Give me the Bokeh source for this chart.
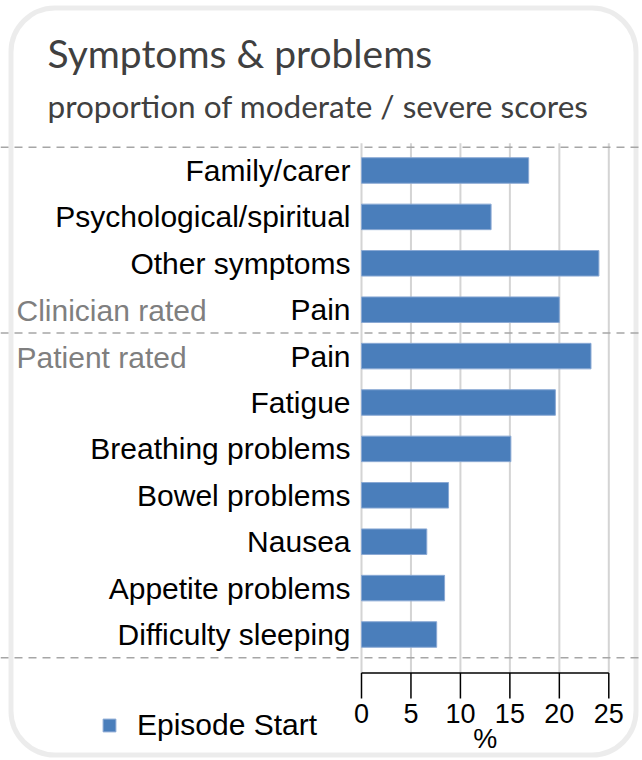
from bokeh.plotting import figure
from bokeh.models import (Range1d, Label, Span, BoxAnnotation, Legend, LegendItem,
                          ColumnDataSource)
from bokeh.core.properties import value
from bokeh.embed import file_html
from bokeh.resources import INLINE

# ---------------- data ----------------
categories = ["Family/carer", "Psychological/spiritual", "Other symptoms", "Pain",
              "Pain", "Fatigue", "Breathing problems", "Bowel problems", "Nausea",
              "Appetite problems", "Difficulty sleeping"]
groups = ["Clinician rated"] * 4 + ["Patient rated"] * 7
values = [16.9, 13.1, 24.0, 20.0, 23.2, 19.6, 15.1, 8.8, 6.6, 8.4, 7.6]
x_ticks = [0, 5, 10, 15, 20, 25]
x_tick_labels = ["0", "5", "10", "15", "20", "25"]
series_name = "Episode Start"
title_text = "Symptoms & problems"
subtitle_text = "proportion of moderate / severe scores"
x_label = "%"

# ---------------- layout helpers (pixel -> data) ----------------
W, H = 642, 760
X0_PX = 361.0                      # px where x = 0
PX_PER_X = (608.3 - 361.0) / 25.0  # px per x unit
Y1_PX = 634.0                      # px of lowest category centre
PX_PER_Y = 46.4                    # px per category step


def dx(px):
    return (px - X0_PX) / PX_PER_X


def dy(py):
    return 1 + (Y1_PX - py) / PX_PER_Y


n = len(categories)
pos = [n - i for i in range(n)]

p = figure(width=W, height=H, output_backend="svg", toolbar_location=None,
           x_range=Range1d(dx(0), dx(W)), y_range=Range1d(dy(H), dy(0)),
           x_axis_type=None, y_axis_type=None,
           min_border_left=0, min_border_right=0, min_border_top=0, min_border_bottom=0)
p.outline_line_color = None
p.background_fill_color = "white"
p.border_fill_color = "white"

BLUE = "#4a7ebb"
SANS = "Liberation Sans"

# rounded frame
p.add_layout(BoxAnnotation(left=dx(10.5), right=dx(635.5), top=dy(7.5), bottom=dy(754.5),
                           fill_alpha=0, line_color="#c0c0c0", line_width=5,
                           border_radius=44, level="underlay"))

# vertical grid lines
grid_top = pos[0] + 0.5 + 4 / PX_PER_Y
axis_y = dy(672.5)
nt = len(x_ticks)
p.segment(x0=x_ticks, x1=x_ticks, y0=[axis_y] * nt, y1=[grid_top] * nt,
          line_color="#d4d4d4", line_width=2)

# dashed separators
seps = [pos[0] + 0.5]
for i in range(1, n):
    if groups[i] != groups[i - 1]:
        seps.append((pos[i] + pos[i - 1]) / 2)
seps.append(pos[-1] - 0.5)
for s in seps:
    p.add_layout(Span(location=s, dimension="width", line_color="#a6a6a6",
                      line_width=1.5, line_dash="8 6"))

src = ColumnDataSource(dict(y=pos, right=values, cat=categories))
bars = p.hbar(y="y", left=0, right="right", height=0.55, source=src,
              fill_color=BLUE, line_color="#8aa9d4", line_width=1)

# category labels
p.text(x=0, y="y", text="cat", source=src, x_offset=-11, y_offset=0,
       text_align="right", text_baseline="middle", text_font=value(SANS),
       text_font_size="30px", text_color="black")

# group labels
last_clin = max(i for i in range(n) if groups[i] == groups[0])
first_pat = last_clin + 1
for idx in (last_clin, first_pat):
    p.add_layout(Label(x=dx(16), y=pos[idx], text=groups[idx], text_align="left",
                       text_baseline="middle", y_offset=-1, text_font=SANS,
                       text_font_size="30px", text_color="#7f7f7f"))

# title & subtitle
p.add_layout(Label(x=dx(47), y=dy(52), text=title_text, text_font="Lato",
                   text_font_size="39px", text_color="#404040", text_baseline="alphabetic"))
p.add_layout(Label(x=dx(47), y=dy(105), text=subtitle_text, text_font="Lato",
                   text_font_size="31.5px", text_color="#404040", text_baseline="alphabetic"))

# x axis (line, ticks, tick labels) drawn on the plot's own scales
p.segment(x0=[x_ticks[0]], x1=[x_ticks[-1]], y0=[axis_y], y1=[axis_y],
          line_color="black", line_width=1.5)
p.segment(x0=x_ticks, x1=x_ticks, y0=[axis_y] * nt, y1=[dy(698)] * nt,
          line_color="black", line_width=1.5)
p.text(x=x_ticks, y=[dy(713)] * nt, text=x_tick_labels, text_align="center",
       text_baseline="middle", text_font=value(SANS), text_font_size="27px",
       text_color="black")
p.add_layout(Label(x=(x_ticks[0] + x_ticks[-1]) / 2, y=dy(738), text=x_label,
                   text_align="center", text_baseline="middle", text_font=SANS,
                   text_font_size="27px", text_color="black"))

# legend
legend = Legend(items=[LegendItem(label=series_name, renderers=[bars])],
                location=(101, 18), orientation="horizontal",
                glyph_width=16, glyph_height=16, label_standoff=20,
                label_text_font=SANS, label_text_font_size="30px",
                label_text_color="black", padding=0, margin=0,
                border_line_alpha=0, background_fill_alpha=0)
p.add_layout(legend, "center")

open("out.html", "w").write(file_html(p, INLINE))
